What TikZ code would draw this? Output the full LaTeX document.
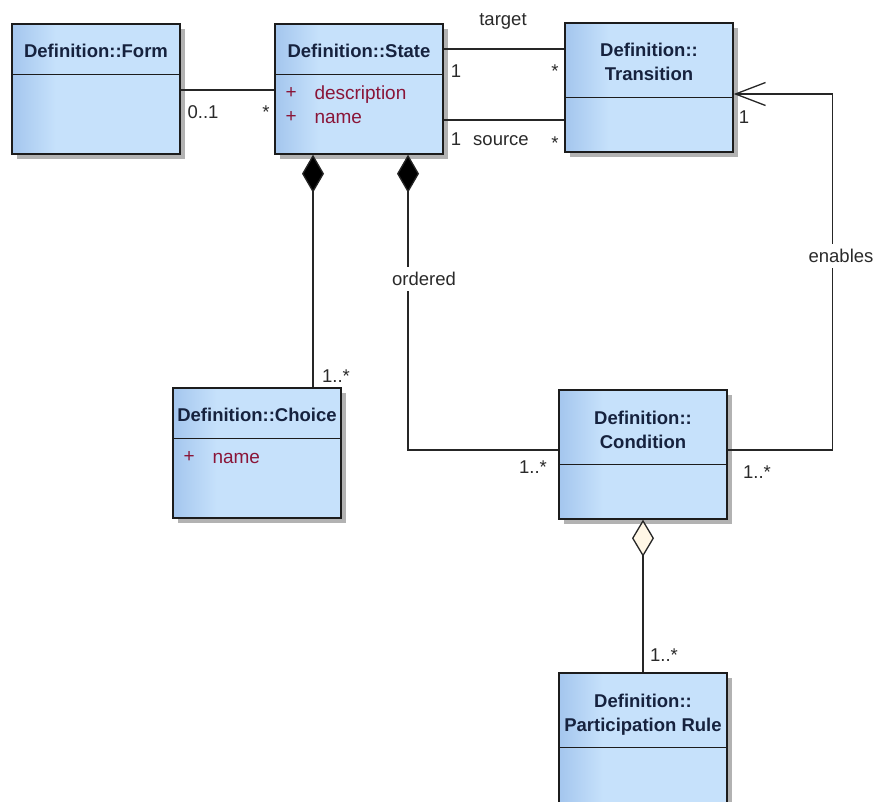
\documentclass[tikz,border=0pt]{standalone}
\usepackage{fontspec}
\setmainfont{Liberation Sans}
\usetikzlibrary{arrows.meta,shadows}

\definecolor{boxdark}{HTML}{A4C6EE}
\definecolor{boxlight}{HTML}{C6E1FB}
\definecolor{boxedge}{HTML}{1C1C1C}
\definecolor{titleink}{HTML}{16223E}
\definecolor{attrink}{HTML}{8A1538}
\definecolor{labelink}{HTML}{2A2A2A}
\definecolor{hollowfill}{HTML}{FFF7E6}

% darker strip at the left edge of every class box
\pgfdeclarehorizontalshading{classfill}{100bp}{color(0bp)=(boxdark); color(25bp)=(boxdark); color(38bp)=(boxlight); color(100bp)=(boxlight)}

\tikzset{
  classbox/.style={draw=boxedge, line width=1.4pt, shading=classfill, inner sep=0pt,
    drop shadow={shadow xshift=5pt, shadow yshift=-5pt, fill=black!30, opacity=1}},
  classline/.style={draw=boxedge, line width=1.3pt},
  classtitle/.style={font=\bfseries\fontsize{18.5}{24}\selectfont, text=titleink, align=center, inner sep=0pt},
  attr/.style={font=\fontsize{19}{22}\selectfont, text=attrink, inner sep=0pt, anchor=west},
  lbl/.style={font=\fontsize{18.5}{22}\selectfont, text=labelink, inner sep=1pt},
  cutlbl/.style={lbl, fill=white, inner xsep=2pt, inner ysep=5pt},
  assoc/.style={draw=black!85, line width=1.3pt},
  compo/.style={assoc, -{Diamond[length=38pt,width=22pt,fill=black]}},
  aggr/.style={assoc, -{Diamond[length=37pt,width=22pt,fill=hollowfill]}},
  navig/.style={assoc, -{Straight Barb[length=30pt,width=23pt]}}
}

\begin{document}
\begin{tikzpicture}[x=1pt, y=-1pt]
\path[use as bounding box, clip] (0,0) rectangle (878,801);
\fill[white] (0,0) rectangle (878,801);

% ---- classes ----
\node[classbox, minimum width=168pt, minimum height=130pt] (form) at (96,89) {};
\draw[classline] ([yshift=-51pt]form.north west) -- ([yshift=-51pt]form.north east);
\node[classtitle] (form-title) at ([yshift=-28pt]form.north) {Definition::Form};

\node[classbox, minimum width=168pt, minimum height=130pt] (state) at (359,89) {};
\draw[classline] ([yshift=-51pt]state.north west) -- ([yshift=-51pt]state.north east);
\node[classtitle] (state-title) at ([yshift=-28pt]state.north) {Definition::State};
\node[attr] (state-p1) at ([xshift=11pt,yshift=-70pt]state.north west) {+};
\node[attr] (state-a1) at ([xshift=40pt,yshift=-71pt]state.north west) {description};
\node[attr] (state-p2) at ([xshift=11pt,yshift=-94pt]state.north west) {+};
\node[attr] (state-a2) at ([xshift=40pt,yshift=-95pt]state.north west) {name};

\node[classbox, minimum width=168pt, minimum height=129pt] (transition) at (649,87.5) {};
\draw[classline] ([yshift=-75pt]transition.north west) -- ([yshift=-75pt]transition.north east);
\node[classtitle] (transition-title) at ([yshift=-40pt]transition.north) {Definition::\\Transition};

\node[classbox, minimum width=168pt, minimum height=130pt] (choice) at (257,453) {};
\draw[classline] ([yshift=-51pt]choice.north west) -- ([yshift=-51pt]choice.north east);
\node[classtitle] (choice-title) at ([yshift=-28pt]choice.north) {Definition::Choice};
\node[attr] (choice-p1) at ([xshift=11pt,yshift=-70pt]choice.north west) {+};
\node[attr] (choice-a1) at ([xshift=40pt,yshift=-71pt]choice.north west) {name};

\node[classbox, minimum width=168pt, minimum height=129pt] (condition) at (643,454.5) {};
\draw[classline] ([yshift=-75pt]condition.north west) -- ([yshift=-75pt]condition.north east);
\node[classtitle] (condition-title) at ([yshift=-41pt]condition.north) {Definition::\\Condition};

\node[classbox, minimum width=168pt, minimum height=130pt] (rule) at (643,738) {};
\draw[classline] ([yshift=-75pt]rule.north west) -- ([yshift=-75pt]rule.north east);
\node[classtitle] (rule-title) at ([yshift=-42pt]rule.north) {Definition::\\Participation Rule};

% ---- associations ----
\draw[assoc] ([yshift=-1pt]form.east) -- ([yshift=-1pt]state.west);
\node[lbl] (m-form) at (203,112) {0..1};
\node[lbl] (m-state-form) at (266,112) {*};

\draw[assoc] ([yshift=40pt]state.east) -- ([yshift=38.5pt]transition.west);
\node[lbl] (r-target) at (503,21) {target};
\node[lbl] (m-target-1) at (456,71) {1};
\node[lbl] (m-target-n) at (555,71) {*};

\draw[assoc] ([yshift=-31pt]state.east) -- ([yshift=-32.5pt]transition.west);
\node[lbl] (m-source-1) at (456,139) {1};
\node[lbl] (r-source) at (501,141) {source};
\node[lbl] (m-source-n) at (555,143) {*};

% composition: State owns Choice
\draw[compo] ([xshift=56pt]choice.north) -- ([xshift=-46pt]state.south);
\node[lbl] (m-choice) at (336,376) {1..*};

% ordered composition: State owns Condition
\draw[compo] ([yshift=4.5pt]condition.west) -| ([xshift=49pt]state.south);
\node[cutlbl] (r-ordered) at (424,279) {ordered};
\node[lbl] (m-cond-left) at (533,467) {1..*};

% Condition enables Transition
\draw[navig] ([yshift=4.5pt]condition.east) -- ++(105pt,0) coordinate (enables-turn)
  |- ([yshift=-6.5pt]transition.east);
\node[cutlbl] (r-enables) at (841,256) {enables};
\node[lbl] (m-cond-right) at (757,472) {1..*};
\node[lbl] (m-trans) at (744,117) {1};

% aggregation: Condition groups Participation Rules
\draw[aggr] (rule.north) -- (condition.south);
\node[lbl] (m-rule) at (664,655) {1..*};
\end{tikzpicture}
\end{document}
